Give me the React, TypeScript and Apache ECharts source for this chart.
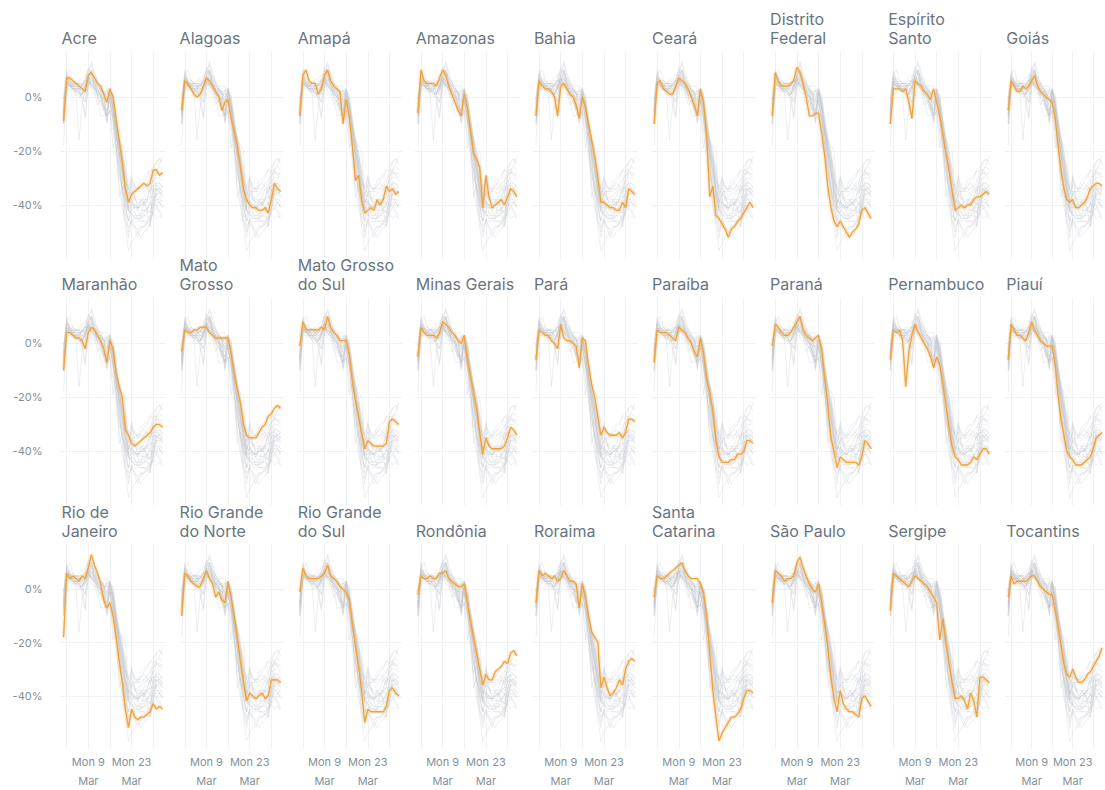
import React, { useEffect, useRef } from 'react';
import * as echarts from 'echarts';

// Categories: one per day, Feb 29 .. Apr 3, 2020 (first and last are padding days)
const dates = [
  '2020-02-29',
  '2020-03-01', '2020-03-02', '2020-03-03', '2020-03-04', '2020-03-05', '2020-03-06', '2020-03-07',
  '2020-03-08', '2020-03-09', '2020-03-10', '2020-03-11', '2020-03-12', '2020-03-13', '2020-03-14',
  '2020-03-15', '2020-03-16', '2020-03-17', '2020-03-18', '2020-03-19', '2020-03-20', '2020-03-21',
  '2020-03-22', '2020-03-23', '2020-03-24', '2020-03-25', '2020-03-26', '2020-03-27', '2020-03-28',
  '2020-03-29', '2020-03-30', '2020-03-31', '2020-04-01', '2020-04-02', '2020-04-03',
];
const mondays = ['2020-03-02', '2020-03-09', '2020-03-16', '2020-03-23', '2020-03-30'];
const tickLabels: Record<string, string> = {
  '2020-03-09': 'Mon 9\nMar',
  '2020-03-23': 'Mon 23\nMar',
};
const yTicks = [0, -20, -40];

// Daily values, Mar 1 .. Apr 2 (% change)
const acre = [-9, 7, 7, 6, 5, 4, 3, 2, 8, 9, 7, 5, 4, 1, -2, 3, 0, -8, -16, -24, -34, -39, -36, -35, -34, -33, -32, -33, -32, -27, -27, -29, -28];
const alagoas = [-5, 6, 5, 3, 1, 0, 1, 4, 7, 6, 4, 2, 0, -5, -2, -1, -8, -13, -18, -26, -34, -38, -40, -41, -41, -42, -42, -41, -43, -38, -32, -34, -35];
const amapa = [-7, 8, 10, 6, 5, 5, 1, 3, 8, 10, 6, 4, 3, 2, -10, -1, -7, -18, -31, -29, -38, -43, -42, -41, -42, -38, -40, -38, -33, -35, -34, -36, -35];
const amazonas = [-6, 10, 6, 5, 5, 5, 4, 7, 10, 8, 4, 1, -2, -5, -7, 1, -4, -12, -21, -23, -26, -41, -29, -37, -41, -40, -39, -38, -40, -37, -34, -35, -37];
const bahia = [-7, 6, 4, 3, 3, 2, 0, -7, 4, 5, 3, 1, 0, -3, -8, 0, -4, -10, -16, -22, -30, -39, -39, -40, -41, -41, -42, -42, -39, -41, -34, -35, -36];
const ceara = [-10, 5, 6, 3, 2, 1, 1, 4, 7, 6, 5, 3, 0, -3, -7, 3, -2, -14, -37, -33, -44, -45, -47, -49, -52, -49, -48, -46, -45, -43, -41, -39, -41];
const distritoFederal = [-7, 9, 6, 4, 4, 4, 5, 6, 11, 9, 5, 0, -7, -7, -6, -6, -13, -22, -33, -41, -46, -48, -46, -48, -50, -52, -50, -49, -47, -42, -41, -43, -45];
const espiritoSanto = [-10, 3, 3, 3, 2, 3, -2, -8, 6, 5, 4, 2, 1, -1, 3, -2, -7, -14, -21, -27, -35, -42, -41, -40, -41, -40, -40, -38, -37, -37, -36, -35, -36];
const goias = [-5, 6, 4, 2, 2, 4, 3, 4, 6, 8, 4, 2, 1, 0, -1, -2, -8, -18, -27, -34, -38, -39, -38, -41, -41, -40, -39, -37, -34, -33, -32, -32, -33];
const maranhao = [-10, 4, 4, 3, 2, 2, 1, -2, 4, 6, 5, 3, 1, -2, -7, 1, -2, -11, -16, -20, -32, -34, -37, -38, -37, -36, -35, -34, -33, -31, -30, -30, -31];
const matoGrosso = [-3, 5, 4, 4, 5, 5, 6, 6, 6, 4, 3, 2, 2, 2, 2, 2, -4, -11, -17, -22, -30, -34, -35, -35, -35, -33, -31, -30, -27, -26, -24, -23, -24];
const matoGrossoDoSul = [-1, 8, 5, 5, 5, 5, 5, 6, 5, 10, 6, 4, 3, 1, 1, 1, -4, -14, -21, -27, -33, -39, -36, -37, -38, -38, -38, -38, -37, -29, -28, -29, -30];
const minasGerais = [-5, 6, 4, 3, 3, 3, 2, 4, 8, 7, 6, 4, 3, 1, 0, 3, -6, -12, -18, -24, -33, -41, -35, -38, -39, -39, -39, -39, -38, -35, -31, -32, -34];
const para = [-6, 5, 4, 3, 3, 1, 0, -2, 7, 2, 1, 1, 0, -1, -9, 2, 1, -8, -15, -20, -27, -34, -31, -33, -34, -34, -34, -33, -35, -33, -28, -28, -29];
const paraiba = [-7, 5, 4, 4, 4, 3, 2, 1, 6, 5, 4, 2, 0, -3, -5, 2, -4, -13, -18, -25, -36, -42, -44, -44, -44, -43, -43, -41, -41, -40, -36, -36, -37];
const parana = [-1, 7, 6, 4, 3, 3, 4, 6, 8, 10, 5, 3, 2, 1, 2, 3, -2, -13, -23, -35, -40, -46, -42, -43, -44, -44, -44, -44, -45, -42, -36, -37, -39];
const pernambuco = [-6, 5, 4, 5, 1, -16, -3, 3, 7, 4, 2, 0, -2, -5, -9, -5, -8, -15, -23, -31, -38, -42, -43, -45, -45, -45, -44, -42, -43, -41, -39, -39, -41];
const piaui = [-6, 7, 5, 3, 3, 2, 1, 4, 8, 5, 3, 1, 0, -1, -1, -1, -8, -19, -28, -34, -40, -42, -43, -45, -45, -45, -44, -43, -42, -39, -35, -34, -33];
const rioDeJaneiro = [-18, 6, 4, 5, 4, 3, 5, 4, 8, 13, 9, 6, 2, -4, -7, -5, -10, -18, -27, -35, -45, -52, -45, -48, -49, -48, -48, -47, -46, -43, -45, -44, -45];
const rioGrandeDoNorte = [-10, 6, 5, 3, 2, 1, 1, 4, 7, 4, 2, -3, -1, -4, -5, 3, -3, -10, -18, -27, -35, -42, -39, -40, -41, -40, -39, -41, -40, -34, -34, -34, -35];
const rioGrandeDoSul = [-1, 8, 5, 4, 4, 4, 4, 5, 6, 9, 5, 4, 3, 1, 0, -1, -4, -13, -21, -29, -38, -50, -45, -46, -46, -46, -46, -46, -44, -38, -37, -39, -40];
const rondonia = [-2, 5, 4, 4, 5, 4, 4, 6, 6, 7, 4, 3, 2, 1, 1, 2, -5, -12, -18, -24, -30, -36, -32, -34, -34, -31, -30, -29, -27, -28, -24, -23, -25];
const roraima = [-5, 7, 5, 6, 5, 4, 5, 3, 4, 7, 5, 3, 3, 2, -7, 2, -3, -10, -16, -18, -20, -37, -33, -37, -40, -39, -37, -34, -36, -30, -27, -26, -27];
const santaCatarina = [-3, 5, 4, 4, 5, 6, 7, 8, 9, 10, 7, 5, 4, 4, 4, 2, -1, -10, -24, -38, -48, -57, -54, -52, -50, -48, -48, -47, -45, -41, -38, -38, -39];
const saoPaulo = [-5, 7, 6, 5, 3, 4, 4, 5, 10, 12, 8, 5, 2, 0, -1, 2, -5, -13, -22, -33, -41, -46, -38, -43, -45, -46, -46, -47, -48, -41, -40, -42, -44];
const sergipe = [-8, 6, 5, 4, 3, 2, 1, 3, 5, 4, 3, 2, 1, -1, -3, -5, -19, -11, -20, -28, -35, -41, -41, -40, -42, -45, -39, -42, -48, -33, -33, -34, -35];
const tocantins = [-3, 5, 2, 3, 3, 3, 3, 4, 5, 5, 3, 1, 0, -1, -2, -2, -8, -14, -21, -28, -32, -33, -30, -33, -35, -35, -34, -32, -31, -29, -27, -25, -22];

const stateTitles = [
  'Acre', 'Alagoas', 'Amapá', 'Amazonas', 'Bahia', 'Ceará', 'Distrito\nFederal', 'Espírito\nSanto', 'Goiás',
  'Maranhão', 'Mato\nGrosso', 'Mato Grosso\ndo Sul', 'Minas Gerais', 'Pará', 'Paraíba', 'Paraná', 'Pernambuco', 'Piauí',
  'Rio de\nJaneiro', 'Rio Grande\ndo Norte', 'Rio Grande\ndo Sul', 'Rondônia', 'Roraima', 'Santa\nCatarina', 'São Paulo', 'Sergipe', 'Tocantins',
];
const stateValues = [
  acre, alagoas, amapa, amazonas, bahia, ceara, distritoFederal, espiritoSanto, goias,
  maranhao, matoGrosso, matoGrossoDoSul, minasGerais, para, paraiba, parana, pernambuco, piaui,
  rioDeJaneiro, rioGrandeDoNorte, rioGrandeDoSul, rondonia, roraima, santaCatarina, saoPaulo, sergipe, tocantins,
];

// layout / style constants
const COLS = 9;
const PITCH_X = 118.1;
const GRID_LEFT0 = 60.5;
const GRID_W = 105.1;
const PITCH_Y = 246.5;
const GRID_TOP0 = 51;
const GRID_H = 208;
const Y_MIN = -60;
const Y_MAX = 17;
const FONT = 'Inter, "Noto Sans", sans-serif';
const TITLE_COLOR = '#6a7480';
const LABEL_COLOR = '#85909b';
const GRID_COLOR = '#f0f1f4';
const GRAY_LINE = 'rgba(196,201,208,0.42)';
const ORANGE = '#eea33e';

function buildOption() {
  const mondayIdx = mondays.map((d) => dates.indexOf(d));
  const labelIdx = Object.keys(tickLabels).map((d) => dates.indexOf(d));
  const pad = (vals: number[]) => [null, ...vals, null];

  const grids: any[] = [];
  const xAxes: any[] = [];
  const yAxes: any[] = [];
  const titles: any[] = [];
  const series: any[] = [];

  stateTitles.forEach((title, i) => {
    const c = i % COLS;
    const r = Math.floor(i / COLS);
    const left = GRID_LEFT0 + c * PITCH_X;
    const top = GRID_TOP0 + r * PITCH_Y;
    grids.push({ left, top, width: GRID_W, height: GRID_H, containLabel: false });
    xAxes.push({
      type: 'category',
      gridIndex: i,
      data: dates,
      boundaryGap: false,
      axisLine: { show: false },
      axisTick: { show: false },
      splitLine: {
        show: true,
        interval: (idx: number) => mondayIdx.includes(idx),
        lineStyle: { color: GRID_COLOR, width: 1 },
      },
      axisLabel: {
        show: r === 2,
        interval: (idx: number) => labelIdx.includes(idx),
        formatter: (v: string) => tickLabels[v] || '',
        color: LABEL_COLOR,
        fontSize: 11,
        lineHeight: 19,
        margin: 3,
        fontFamily: FONT,
      },
    });
    yAxes.push({
      type: 'value',
      gridIndex: i,
      min: Y_MIN,
      max: Y_MAX,
      interval: 20,
      axisLine: { show: false },
      axisTick: { show: false },
      splitLine: {
        show: true,
        showMinLine: false,
        showMaxLine: false,
        lineStyle: { color: GRID_COLOR, width: 1 },
      },
      axisLabel: {
        show: c === 0,
        formatter: (v: number) => (yTicks.includes(v) ? `${v}%` : ''),
        color: LABEL_COLOR,
        fontSize: 11,
        margin: 18,
        fontFamily: FONT,
      },
    });
    const twoLines = title.includes('\n');
    titles.push({
      text: title,
      left: left + 1,
      top: top - 23 - (twoLines ? 19 : 0),
      padding: 0,
      textStyle: {
        fontSize: 16,
        fontWeight: 'normal',
        color: TITLE_COLOR,
        lineHeight: 19,
        fontFamily: FONT,
      },
    });
    stateValues.forEach((vals, j) => {
      series.push({
        type: 'line',
        name: `${i}-${j}`,
        xAxisIndex: i,
        yAxisIndex: i,
        data: pad(vals),
        symbol: 'none',
        silent: true,
        z: 2,
        lineStyle: { color: GRAY_LINE, width: 0.7 },
      });
    });
    series.push({
      type: 'line',
      xAxisIndex: i,
      yAxisIndex: i,
      data: pad(stateValues[i]),
      symbol: 'none',
      silent: true,
      z: 3,
      lineStyle: { color: 'rgba(246,185,100,0.25)', width: 4 },
    });
    series.push({
      type: 'line',
      xAxisIndex: i,
      yAxisIndex: i,
      data: pad(stateValues[i]),
      symbol: 'none',
      silent: true,
      z: 4,
      lineStyle: { color: ORANGE, width: 1.3 },
    });
  });

  return {
    animation: false,
    backgroundColor: '#ffffff',
    textStyle: { fontFamily: FONT },
    title: titles,
    grid: grids,
    xAxis: xAxes,
    yAxis: yAxes,
    series,
  };
}

export default function App() {
  const ref = useRef<HTMLDivElement>(null);
  useEffect(() => {
    if (!ref.current) return;
    const chart = echarts.init(ref.current, undefined, { renderer: 'svg' });
    chart.setOption(buildOption());
    return () => chart.dispose();
  }, []);
  return (
    <div
      ref={ref}
      style={{ position: 'absolute', left: 0, top: 0, width: 1105, height: 790, background: '#fff' }}
    />
  );
}
